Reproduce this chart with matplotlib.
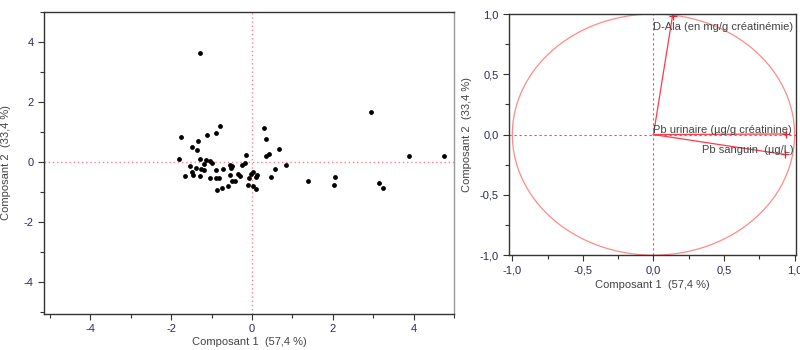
import matplotlib
matplotlib.use("Agg")
import matplotlib.pyplot as plt
import numpy as np
from matplotlib.ticker import MultipleLocator, FuncFormatter

plt.rcParams["font.family"] = ["Liberation Sans", "DejaVu Sans"]
plt.rcParams["axes.unicode_minus"] = False

# individual scores (Composant 1, Composant 2)
score_x = [-1.30, 2.94, 3.89, 4.75, -1.76, -0.79, -0.88, -1.11, -1.34, -1.48,
           -1.37, -1.81, -1.29, -1.14, -1.04, -0.99, -0.16, 0.29, 0.34, 0.35,
           0.43, 0.66, 0.85, -0.18, -0.26, -1.53, -1.38, -1.26, -1.19, -0.90,
           -0.73, -0.54, -0.53, 0.58, -1.67, -1.46, -1.28, -1.05, -0.89, -0.54,
           -0.49, -0.42, -0.30, -0.34, -0.07, 0.10, 0.46, 1.38, 2.05, 2.03,
           3.14, 3.24, -0.87, -0.74, -0.60, -0.09, 0.02, 0.10, 0.03, -0.03,
           0.12, -1.49, -1.20, -0.81, -0.50]
score_y = [3.62, 1.67, 0.20, 0.20, 0.84, 1.19, 0.97, 0.89, 0.72, 0.52,
           0.41, 0.09, 0.11, 0.06, 0.03, -0.03, 0.25, 1.13, 0.76, 0.22,
           0.26, 0.44, -0.09, -0.04, -0.09, -0.14, -0.20, -0.23, -0.07, -0.26,
           -0.23, -0.10, -0.18, -0.22, -0.47, -0.43, -0.46, -0.54, -0.53, -0.43,
           -0.62, -0.64, -0.46, -0.40, -0.54, -0.49, -0.48, -0.62, -0.49, -0.77,
           -0.70, -0.87, -0.92, -0.87, -0.79, -0.77, -0.79, -0.90, -0.34, -0.40,
           -0.42, -0.34, -0.27, -0.51, -0.14]

# variable loadings
var_names = ["D-Ala (en mg/g créatinémie)", "Pb urinaire (µg/g créatinine)",
             "Pb sanguin  (µg/L)"]
load_x = [0.135, 0.94, 0.93]
load_y = [0.985, 0.005, -0.165]

xlabel = "Composant 1  (57,4 %)"
ylabel = "Composant 2  (33,4 %)"

tick_col = "#2b2b55"
text_col = "#444444"
spine_col = "#333333"


def comma(v, pos):
    return ("%.1f" % v).replace(".", ",")


def style_axes(ax):
    for s in ax.spines.values():
        s.set_color(spine_col)
        s.set_linewidth(1.0)
    ax.spines["right"].set_color("#999999")
    ax.tick_params(which="both", direction="out", colors=spine_col,
                   labelcolor=tick_col, labelsize=8, width=0.8)
    ax.tick_params(which="major", length=4)
    ax.tick_params(which="minor", length=3)


fig = plt.figure(figsize=(8, 3.5), dpi=100)

# left: score plot
ax1 = fig.add_axes([0.055, 0.103, 0.5125, 0.863])
ax1.scatter(score_x, score_y, s=12, color="black", zorder=3, linewidths=0)
ax1.axhline(0, color="#ff7f90", linestyle=(0, (1, 2)), linewidth=1.0)
ax1.axvline(0, color="#ff7f90", linestyle=(0, (1, 2)), linewidth=1.0)
ax1.set_xlim(-5.15, 5.0)
ax1.set_ylim(-5.05, 5.0)
ax1.xaxis.set_major_locator(MultipleLocator(2))
ax1.xaxis.set_minor_locator(MultipleLocator(1))
ax1.yaxis.set_major_locator(MultipleLocator(2))
ax1.yaxis.set_minor_locator(MultipleLocator(1))
style_axes(ax1)
ax1.set_xlabel(xlabel, fontsize=8, color=text_col, labelpad=2)
ax1.set_ylabel(ylabel, fontsize=8, color=text_col, labelpad=9)

# right: correlation circle
ax2 = fig.add_axes([0.636, 0.271, 0.359, 0.689])
theta = np.linspace(0, 2 * np.pi, 400)
ax2.plot(np.cos(theta), np.sin(theta), color="#ff8a8a", linewidth=0.9)
ax2.axhline(0, color="#ff4060", linestyle=(0, (2, 2.5)), linewidth=0.8)
ax2.axvline(0, color="#ff4060", linestyle=(0, (2, 2.5)), linewidth=0.8)
for lx, ly in zip(load_x, load_y):
    ax2.plot([0, lx], [0, ly], color="#ff3a4a", linewidth=0.9)
    ax2.plot(lx, ly, marker="+", color="#ee2233", markersize=6, mew=0.9)
ax2.text(0.0, 0.89, var_names[0], fontsize=8, color=text_col,
         ha="left", va="center")
ax2.text(0.0, 0.04, var_names[1], fontsize=8, color=text_col,
         ha="left", va="center")
ax2.text(0.99, -0.125, var_names[2], fontsize=8, color=text_col,
         ha="right", va="center")
ax2.set_xlim(-1.025, 1.01)
ax2.set_ylim(-1.0, 1.0)
ax2.xaxis.set_major_locator(MultipleLocator(0.5))
ax2.xaxis.set_minor_locator(MultipleLocator(0.25))
ax2.yaxis.set_major_locator(MultipleLocator(0.5))
ax2.yaxis.set_minor_locator(MultipleLocator(0.25))
ax2.xaxis.set_major_formatter(FuncFormatter(comma))
ax2.yaxis.set_major_formatter(FuncFormatter(comma))
style_axes(ax2)
ax2.spines["right"].set_color(spine_col)
ax2.set_xlabel(xlabel, fontsize=8, color=text_col, labelpad=3)
ax2.set_ylabel(ylabel, fontsize=8, color=text_col, labelpad=5)

fig.savefig("out.png", dpi=100)
